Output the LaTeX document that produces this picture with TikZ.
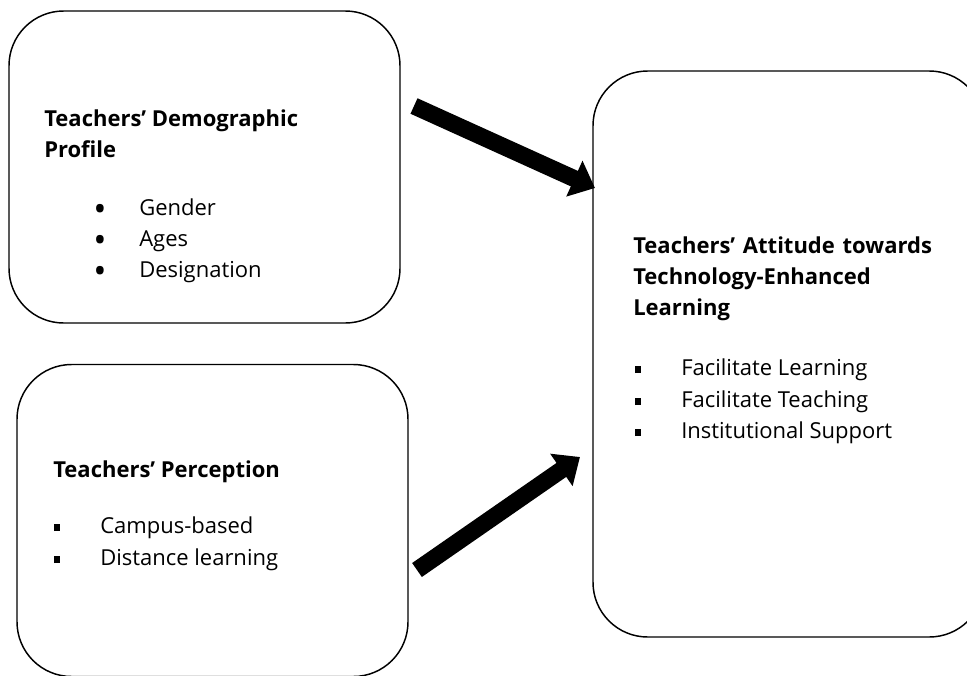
\documentclass[tikz,border=0pt]{standalone}
\usepackage{fontspec}
\setmainfont{Open Sans}
\usetikzlibrary{arrows.meta}

\tikzset{
  pbox/.style={draw,line width=1.1pt,rounded corners=41pt,inner sep=0pt},
  ttl/.style={anchor=base west,inner sep=0pt,font=\fontsize{16.5}{19}\selectfont\bfseries},
  itm/.style={anchor=base west,inner sep=0pt,font=\fontsize{16.5}{19}\selectfont},
  bigarrow/.style={line width=12.75pt,-{Triangle[length=17pt,width=28.5pt]}}
}
\newcommand{\dotitem}[1]{\makebox[34.5pt][l]{\raisebox{-5.2pt}[0pt][0pt]{\scalebox{1.6}{\textbullet}}}#1}
\newcommand{\sqitem}[1]{\makebox[34.5pt][l]{\rule[1.5pt]{4.5pt}{5.2pt}}#1}

\begin{document}
\begin{tikzpicture}[x=0.75pt,y=-0.75pt]
    \useasboundingbox (0,0) rectangle (967,675);
    \clip (0,0) rectangle (967,675);
    %% the three boxes
    \node[pbox,minimum width=293.25pt,minimum height=234pt] (demo) at (204.5,167) {};
    \node[pbox,minimum width=293.25pt,minimum height=234pt] (percep) at (212.5,520.5) {};
    \node[pbox,minimum width=293.25pt,minimum height=424.5pt] (attit) at (788.5,354) {};
    %% demographic profile
    \node[ttl] (demoT1) at (44,126) {Teachers’ Demographic};
    \node[ttl] (demoT2) at (44,157) {Profile};
    \node[itm] (demoI1) at (93,215) {\dotitem{Gender}};
    \node[itm] (demoI2) at (93,246) {\dotitem{Ages}};
    \node[itm] (demoI3) at (93,277) {\dotitem{Designation}};
    %% perception
    \node[ttl] (percepT) at (53,477) {Teachers’ Perception};
    \node[itm] (percepI1) at (54,533) {\sqitem{Campus-based}};
    \node[itm] (percepI2) at (54,565) {\sqitem{Distance learning}};
    %% attitude
    \node[ttl] (attitT1) at (633,253) {\makebox[224pt][s]{Teachers’ Attitude towards}};
    \node[ttl] (attitT2) at (633,284) {Technology-Enhanced};
    \node[ttl] (attitT3) at (633,315) {Learning};
    \node[itm] (attitI1) at (635,375) {\sqitem{Facilitate Learning}};
    \node[itm] (attitI2) at (635,407) {\sqitem{Facilitate Teaching}};
    \node[itm] (attitI3) at (635,438) {\sqitem{Institutional Support}};
    %% arrows
    \coordinate (tail1) at (414,106);
    \coordinate (head1) at (595,188);
    \coordinate (tail2) at (417,570);
    \coordinate (head2) at (580,457);
    \draw[bigarrow] (tail1) -- (head1);
    \draw[bigarrow] (tail2) -- (head2);
\end{tikzpicture}
\end{document}
